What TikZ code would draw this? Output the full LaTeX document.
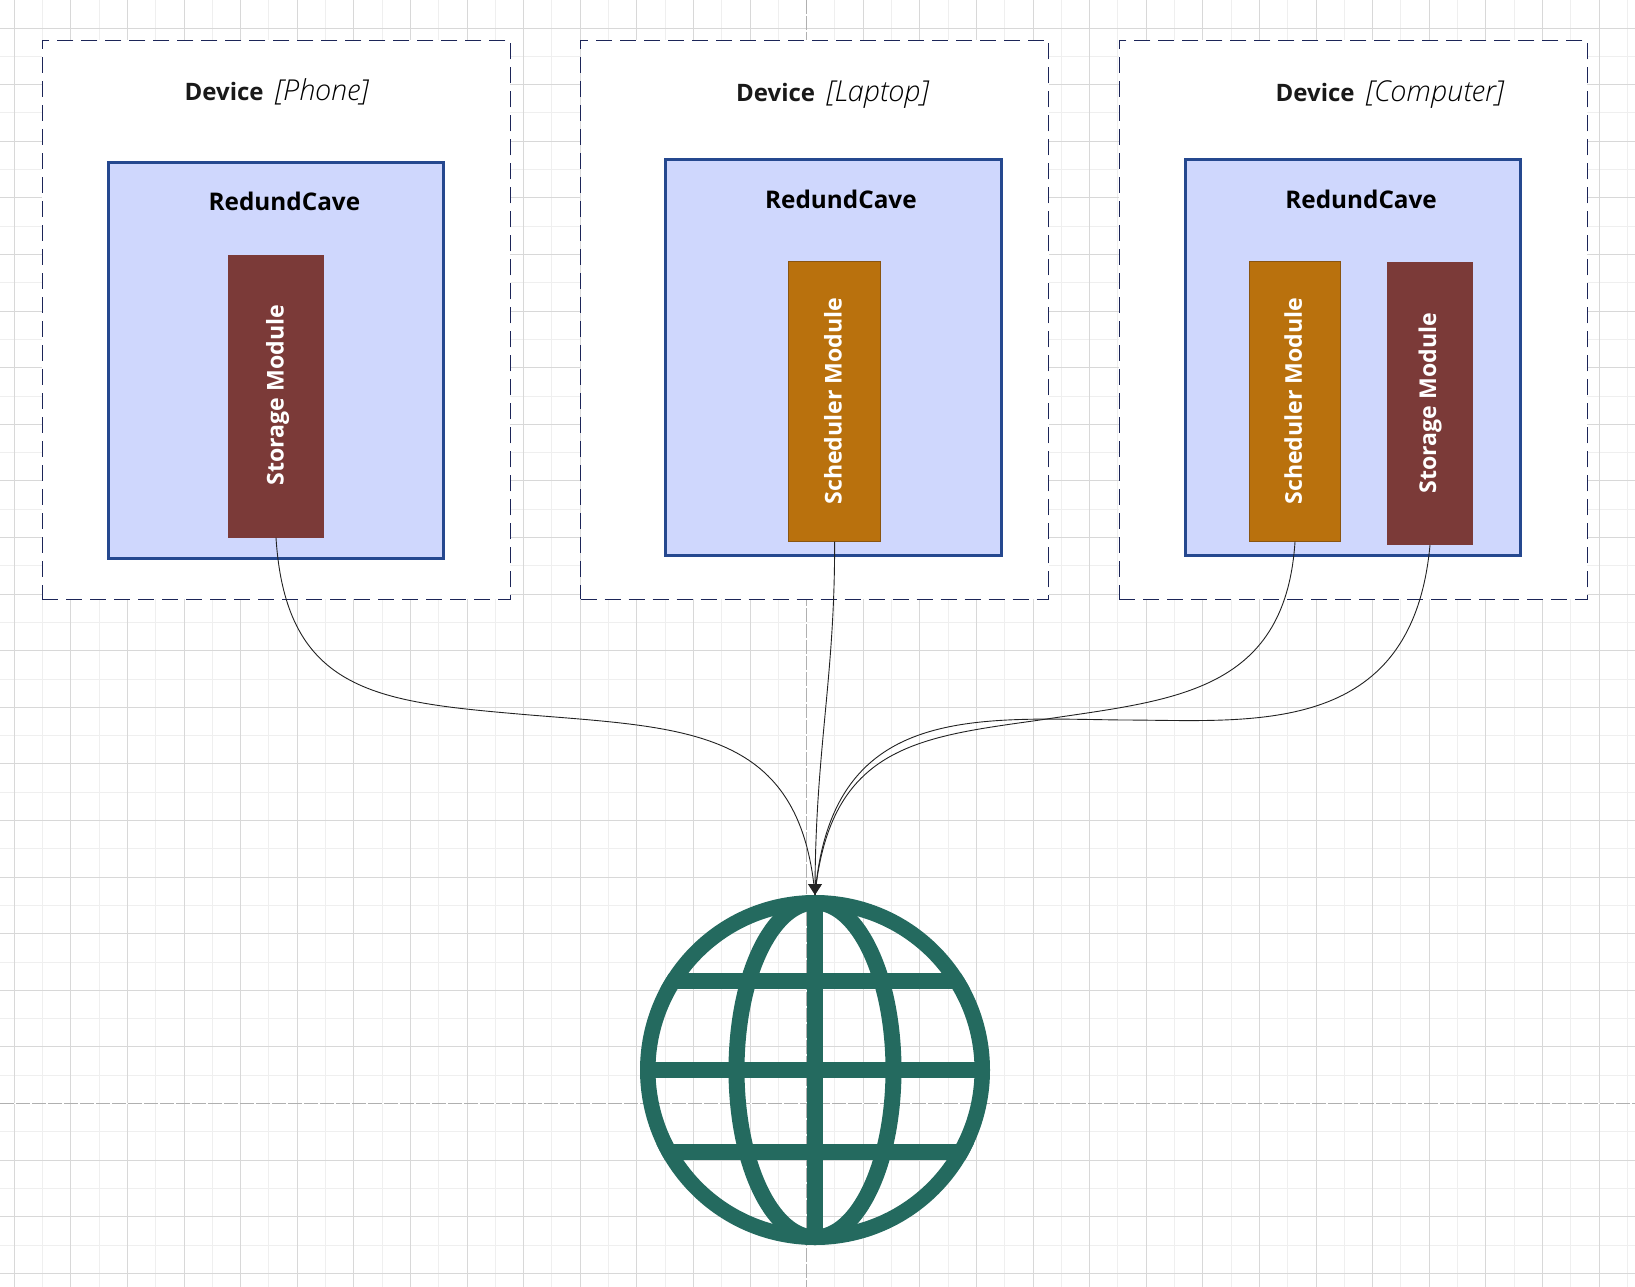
\documentclass[tikz,border=0pt]{standalone}
\usepackage{fontspec}
\setmainfont{Open Sans}
\newfontfamily\lightital{Open Sans Light Italic}
\usetikzlibrary{arrows.meta}
\definecolor{gridmaj}{HTML}{D8D8D8}
\definecolor{gridmin}{HTML}{EFEFEF}
\definecolor{guidecol}{HTML}{B0B0B0}
\definecolor{devline}{HTML}{1C2558}
\definecolor{caveline}{HTML}{25488F}
\definecolor{cavefill}{HTML}{CFD7FD}
\definecolor{stocol}{HTML}{7B3A38}
\definecolor{schcol}{HTML}{B9710D}
\definecolor{schline}{HTML}{8A5510}
\definecolor{globecol}{HTML}{246A5F}
\definecolor{wirecol}{HTML}{222222}
\tikzset{
  devicebox/.style={draw=devline,fill=white,line width=1.5pt,dash pattern=on 16pt off 8pt,minimum width=468pt,minimum height=559pt,inner sep=0pt,outer sep=0pt},
  cavebox/.style={draw=caveline,fill=cavefill,line width=3pt,inner sep=0pt,outer sep=0pt,minimum height=395.5pt,minimum width=334.5pt},
  stobox/.style={fill=stocol,inner sep=0pt,outer sep=0pt},
  schbox/.style={draw=schline,fill=schcol,line width=1pt,inner sep=0pt,outer sep=0pt},
  titletext/.style={inner sep=0pt,anchor=base west,font=\fontsize{24}{28}\selectfont,text=black!90},
  cavetext/.style={inner sep=0pt,anchor=base west,font=\fontsize{24.3}{28}\selectfont\bfseries,text=black},
  modtext/.style={inner sep=0pt,rotate=90,font=\fontsize{23.1}{28}\selectfont\bfseries,text=white},
  wire/.style={draw=wirecol,line width=0.9pt},
  wiretip/.style={-{Triangle[length=11pt,width=14pt]},wirecol,draw=wirecol,line width=0.9pt},
  globestroke/.style={draw=globecol,line width=16pt},
}
\newcommand{\devtitle}[1]{\textbf{Device}\hspace{12pt}{\lightital\fontsize{28.8}{28}\selectfont\color{black}#1}}
\begin{document}
\begin{tikzpicture}[x=1pt,y=-1pt]
\useasboundingbox (0,0) rectangle (1635,1287);
\fill[white] (0,0) rectangle (1635,1287);
% grid
\foreach \i in {0,2,...,58}{\draw[gridmin,line width=1pt] ({14.2+28.3*(\i+1)},0) -- ({14.2+28.3*(\i+1)},1287);}
\foreach \j in {0,2,...,44}{\draw[gridmin,line width=1pt] (0,{28.1+28.3*(\j+1)}) -- (1635,{28.1+28.3*(\j+1)});}
\foreach \i in {0,2,...,56}{\draw[gridmaj,line width=1pt] ({14.2+28.3*\i},0) -- ({14.2+28.3*\i},1287);}
\foreach \j in {0,2,...,44}{\draw[gridmaj,line width=1pt] (0,{28.1+28.3*\j}) -- (1635,{28.1+28.3*\j});}
% guides
\draw[white,line width=1pt] (806.6,0) -- (806.6,1287);
\draw[guidecol,line width=1pt,dash pattern=on 14pt off 2pt] (806.6,0) -- (806.6,1287);
\draw[white,line width=1pt] (0,1103.3) -- (1635,1103.3);
\draw[guidecol,line width=1pt,dash pattern=on 14pt off 2pt] (0,1103.3) -- (1635,1103.3);
% device boxes
\node[devicebox] (dev1) at (276.4,319.8) {};
\node[devicebox] (dev2) at (814.5,319.8) {};
\node[devicebox] (dev3) at (1353.4,319.8) {};
\node[titletext] (t1) at (184.5,100.5) {\devtitle{[Phone]}};
\node[titletext] (t2) at (736,101.5) {\devtitle{[Laptop]}};
\node[titletext] (t3) at (1275.5,101.5) {\devtitle{[Computer]}};
% cave boxes
\node[cavebox,minimum height=396.5pt] (cave1) at (275.75,360.5) {};
\node[cavebox,minimum width=335.5pt] (cave2) at (833.5,357.25) {};
\node[cavebox] (cave3) at (1353,357.25) {};
\node[cavetext] (c1) at (208.5,210) {RedundCave};
\node[cavetext] (c2) at (765,208) {RedundCave};
\node[cavetext] (c3) at (1285.2,208) {RedundCave};
% modules
\node[stobox,minimum width=96pt,minimum height=282.7pt] (mod1) at (276,396.35) {};
\node[schbox,minimum width=92.7pt,minimum height=280.2pt] (mod2) at (834.6,401.6) {};
\node[schbox,minimum width=91.4pt,minimum height=280.2pt] (mod3) at (1295,401.6) {};
\node[stobox,minimum width=86pt,minimum height=283pt] (mod4) at (1430,403.5) {};
\node[modtext] (m1) at (277.5,395) {Storage Module};
\node[modtext] (m2) at (833,401) {Scheduler Module};
\node[modtext] (m3) at (1293.3,401) {Scheduler Module};
\node[modtext] (m4) at (1430,403) {Storage Module};
% globe
\node[circle,minimum size=350pt,inner sep=0pt,outer sep=0pt] (globe) at (815,1070) {};
\begin{scope}
\clip (globe.center) circle[radius=175];
\draw[globestroke] (globe.center) ellipse[x radius=78.5,y radius=167.5];
\draw[globestroke] (globe.north) -- (globe.south);
\draw[globestroke] (640,981) -- (990,981);
\draw[globestroke] (640,1070) -- (990,1070);
\draw[globestroke] (640,1151.5) -- (990,1151.5);
\end{scope}
\draw[globestroke,line width=15.5pt] (globe.center) circle[radius=167.25];
% connectors
\draw[wire] (mod1.south) .. controls (286,695) and (380,702) .. (530,715)
  .. controls (690,728) and (800,730) .. (globe.north);
\draw[wire] (mod2.south) .. controls (835,680) and (815,750) .. (globe.north);
\draw[wire] (mod3.south) .. controls (1285,695) and (1170,700) .. (1040,720)
  .. controls (920,737) and (830,745) .. (globe.north);
\draw[wire] (mod4.south) .. controls (1412,740) and (1250,720) .. (1122,720)
  .. controls (970,718) and (831,705) .. (globe.north);
\coordinate (tipstart) at (815,880);
\draw[wiretip] (tipstart) -- (globe.north);
\end{tikzpicture}
\end{document}
